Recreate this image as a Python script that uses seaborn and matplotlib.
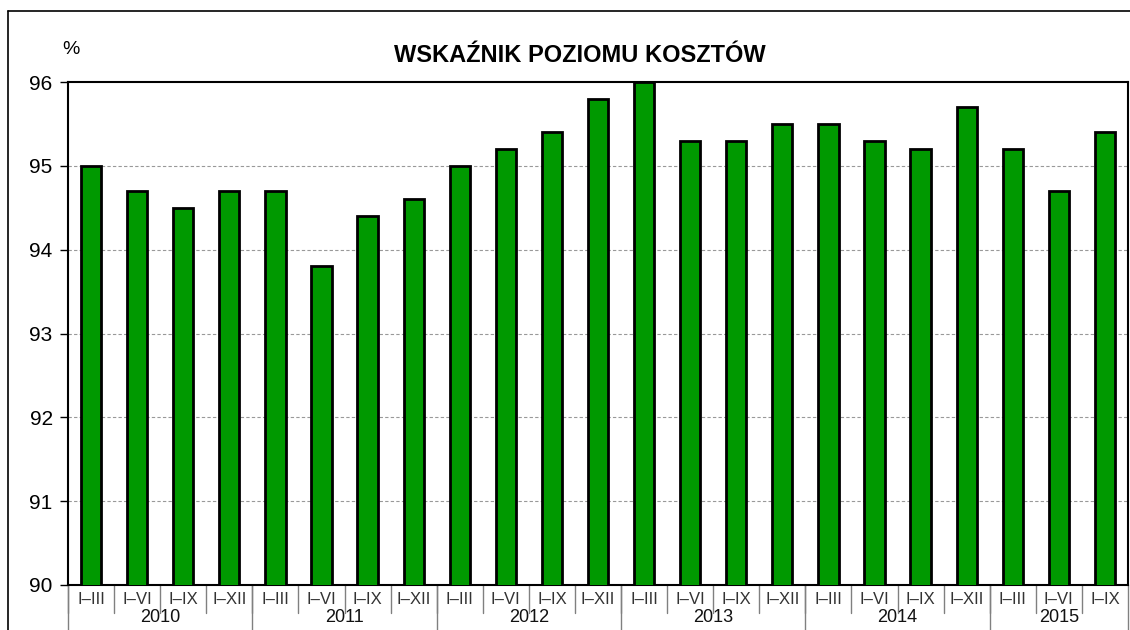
import numpy as np
import pandas as pd
import matplotlib.pyplot as plt
import matplotlib.transforms as mtransforms
from matplotlib.lines import Line2D
import seaborn as sns

# data
years = ['2010', '2011', '2012', '2013', '2014', '2015']
quarters_per_year = [4, 4, 4, 4, 4, 3]
quarter_names = ['I–III', 'I–VI', 'I–IX', 'I–XII']
values = [95.0, 94.7, 94.5, 94.7,
          94.7, 93.8, 94.4, 94.6,
          95.0, 95.2, 95.4, 95.8,
          96.0, 95.3, 95.3, 95.5,
          95.5, 95.3, 95.2, 95.7,
          95.2, 94.7, 95.4]

GREEN = '#009900'
SEP = '#808080'

labels, keys = [], []
for y, n in zip(years, quarters_per_year):
    for q in quarter_names[:n]:
        labels.append(q)
        keys.append(f'{y} {q}')
df = pd.DataFrame({'key': keys, 'value': values})

sns.set_style('white')
plt.rcParams['font.family'] = ['Liberation Sans', 'DejaVu Sans']
plt.rcParams['text.color'] = 'black'
plt.rcParams['ytick.color'] = 'black'

fig = plt.figure(figsize=(11.3, 6.3), dpi=100)
ax = fig.add_axes([68 / 1130, 45 / 630, 1060 / 1130, 503 / 630])

sns.barplot(data=df, x='key', y='value', color=GREEN, width=0.44,
            edgecolor='black', linewidth=2, saturation=1, ax=ax, zorder=3)

ax.set_ylim(90, 96)
ax.set_xlim(-0.5, len(values) - 0.5)
ax.set_yticks(range(90, 97))
ax.tick_params(axis='y', labelsize=15, length=6, width=1, color='black',
               labelcolor='black', left=True, pad=5)
ax.set_xticks([])
ax.set_xlabel('')
ax.set_ylabel('')
for y in range(91, 96):
    ax.axhline(y, color='#999999', lw=0.8, ls=(0, (3, 2)), zorder=1)
for s in ax.spines.values():
    s.set_color('black')
    s.set_linewidth(1.5)

# category axis: quarters and years
trans = mtransforms.blended_transform_factory(ax.transData, ax.transAxes)
h_ax = 503.0
for i, lab in enumerate(labels):
    ax.text(i, -15 / h_ax, lab, transform=trans, ha='center', va='center',
            fontsize=12, color='#333333')
    ax.add_line(Line2D([i - 0.5, i - 0.5], [0, -28 / h_ax], transform=trans,
                       color=SEP, lw=1, clip_on=False))
start = 0
for y, n in zip(years, quarters_per_year):
    ax.text(start + (n - 1) / 2, -33 / h_ax, y, transform=trans, ha='center',
            va='center', fontsize=13, color='#111111')
    ax.add_line(Line2D([start - 0.5, start - 0.5], [0, -50 / h_ax], transform=trans,
                       color=SEP, lw=1, clip_on=False))
    start += n
ax.add_line(Line2D([start - 0.5, start - 0.5], [0, -50 / h_ax], transform=trans,
                   color=SEP, lw=1, clip_on=False))

fig.text(62 / 1130, 1 - 49 / 630, '%', fontsize=14, ha='left', va='center')
fig.text(580 / 1130, 1 - 55 / 630, 'WSKAŹNIK POZIOMU KOSZTÓW', fontsize=17,
         fontweight='bold', ha='center', va='center')

# outer chart border
fig.add_artist(Line2D([8 / 1130, 1.0], [1 - 11 / 630] * 2, transform=fig.transFigure,
                      color='black', lw=1.2))
fig.add_artist(Line2D([8 / 1130] * 2, [0, 1 - 11 / 630], transform=fig.transFigure,
                      color='black', lw=1.2))

fig.savefig('out.png', dpi=100)
